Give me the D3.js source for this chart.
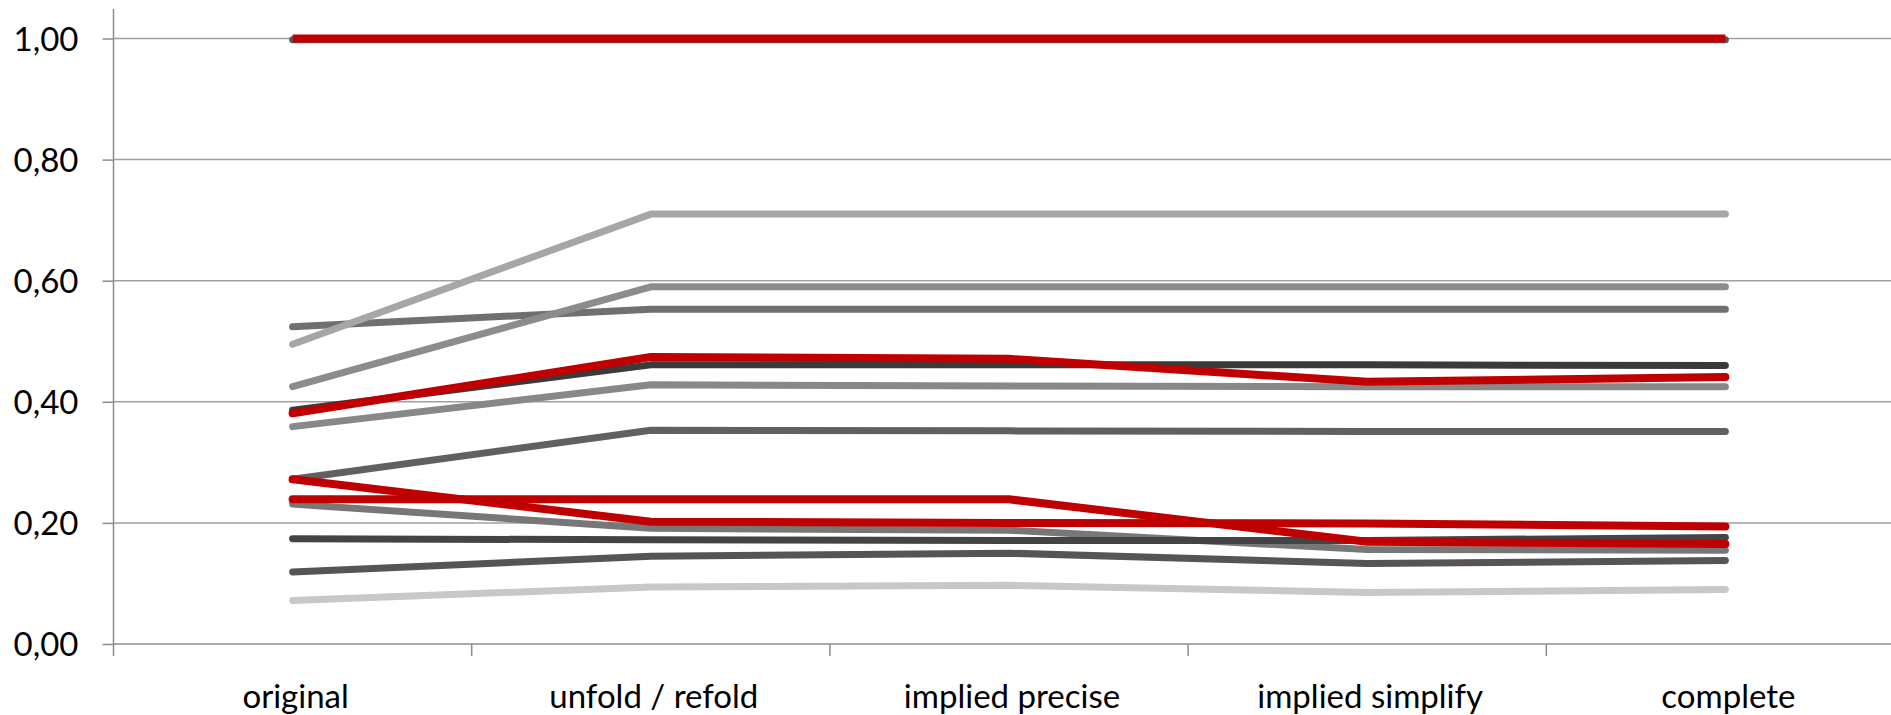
<!DOCTYPE html>
<html>
<head>
<meta charset="utf-8">
<script src="https://cdn.jsdelivr.net/npm/d3@7"></script>
<style>
  body { margin: 0; background: #fff; }
  text { font-family: Lato, "Open Sans", sans-serif; fill: #000; }
</style>
</head>
<body>
<div id="chart"></div>
<script>
var width = 1891, height = 715;

var categories = ["original", "unfold / refold", "implied precise", "implied simplify", "complete"];
var yTicks = [0, 0.2, 0.4, 0.6, 0.8, 1.0];

// grey series
var g1  = [0.998, 0.998, 0.998, 0.998, 0.998];
var g2  = [0.495, 0.710, 0.710, 0.710, 0.710];
var g3  = [0.425, 0.590, 0.590, 0.590, 0.590];
var g4  = [0.524, 0.553, 0.553, 0.553, 0.553];
var g5  = [0.386, 0.461, 0.461, 0.461, 0.460];
var g6  = [0.359, 0.428, 0.426, 0.425, 0.425];
var g7  = [0.272, 0.353, 0.352, 0.351, 0.351];
var g8  = [0.231, 0.191, 0.188, 0.156, 0.155];
var g9  = [0.174, 0.172, 0.171, 0.171, 0.176];
var g10 = [0.119, 0.145, 0.150, 0.133, 0.138];
var g11 = [0.072, 0.094, 0.097, 0.085, 0.090];
// red series
var r1 = [1.000, 1.000, 1.000, 1.000, 1.000];
var r2 = [0.381, 0.474, 0.471, 0.433, 0.441];
var r3 = [0.239, 0.239, 0.239, 0.169, 0.165];
var r4 = [0.272, 0.202, 0.200, 0.199, 0.194];

var series = [
  {v: g1,  c: "#595959", w: 7},
  {v: g4,  c: "#707070", w: 7},
  {v: g2,  c: "#a6a6a6", w: 7},
  {v: g3,  c: "#8c8c8c", w: 7},
  {v: g5,  c: "#3a3a3a", w: 7},
  {v: g6,  c: "#888888", w: 7},
  {v: g7,  c: "#606060", w: 7},
  {v: g8,  c: "#777777", w: 7},
  {v: g9,  c: "#444444", w: 7},
  {v: g10, c: "#555555", w: 7},
  {v: g11, c: "#c8c8c8", w: 7},
  {v: r1,  c: "#c00000", w: 8, cap: "butt"},
  {v: r2,  c: "#c00000", w: 8},
  {v: r3,  c: "#c00000", w: 8},
  {v: r4,  c: "#c00000", w: 8}
];

var x0 = 113.5, step = 358.2;
var x = d3.scaleBand().domain(categories).range([x0, x0 + step * categories.length]);
var y = d3.scaleLinear().domain([0, 1]).range([644, 38.5]);

var fmt = d3.formatLocale({decimal: ",", thousands: ".", grouping: [3], currency: ["", "€"]}).format(".2f");

var svg = d3.select("#chart").append("svg")
  .attr("width", width)
  .attr("height", height);

// gridlines
svg.append("g").selectAll("line")
  .data(yTicks.filter(function(d) { return d > 0; }))
  .enter().append("line")
  .attr("x1", x0).attr("x2", width)
  .attr("y1", function(d) { return y(d); })
  .attr("y2", function(d) { return y(d); })
  .style("stroke", "#a0a0a0")
  .style("stroke-width", 1.5);

// y axis
var yAxis = d3.axisLeft(y).tickValues(yTicks).tickFormat(fmt).tickSize(11).tickPadding(24);
var ya = svg.append("g").attr("transform", "translate(" + x0 + ",0)").call(yAxis);
ya.select(".domain").remove();
ya.selectAll(".tick line").style("stroke", "#8c8c8c").style("stroke-width", 1.5);
ya.selectAll(".tick text").style("font-size", "33px").attr("dy", "0.36em");
ya.append("line")
  .attr("x1", 0).attr("x2", 0).attr("y1", 9).attr("y2", 656)
  .style("stroke", "#8c8c8c").style("stroke-width", 1.5);

// x axis
var xa = svg.append("g");
xa.append("line")
  .attr("x1", x0).attr("x2", width).attr("y1", y(0)).attr("y2", y(0))
  .style("stroke", "#8c8c8c").style("stroke-width", 1.5);
xa.selectAll(".xtick")
  .data(categories.slice(1))
  .enter().append("line")
  .attr("class", "xtick")
  .attr("x1", function(d) { return x(d); })
  .attr("x2", function(d) { return x(d); })
  .attr("y1", y(0)).attr("y2", y(0) + 12)
  .style("stroke", "#8c8c8c").style("stroke-width", 1.5);
xa.selectAll(".xlabel")
  .data(categories)
  .enter().append("text")
  .attr("class", "xlabel")
  .attr("x", function(d) { return x(d) + x.bandwidth() / 2 + 3; })
  .attr("y", 708)
  .attr("text-anchor", "middle")
  .style("font-size", "33px")
  .text(function(d) { return d; });

// lines
var line = d3.line()
  .x(function(d, i) { return x(categories[i]) + x.bandwidth() / 2; })
  .y(function(d) { return y(d); });

svg.append("g").selectAll("path")
  .data(series)
  .enter().append("path")
  .attr("d", function(s) { return line(s.v); })
  .style("fill", "none")
  .style("stroke", function(s) { return s.c; })
  .style("stroke-width", function(s) { return s.w; })
  .style("stroke-linecap", function(s) { return s.cap || "round"; })
  .style("stroke-linejoin", "round");
</script>
</body>
</html>
